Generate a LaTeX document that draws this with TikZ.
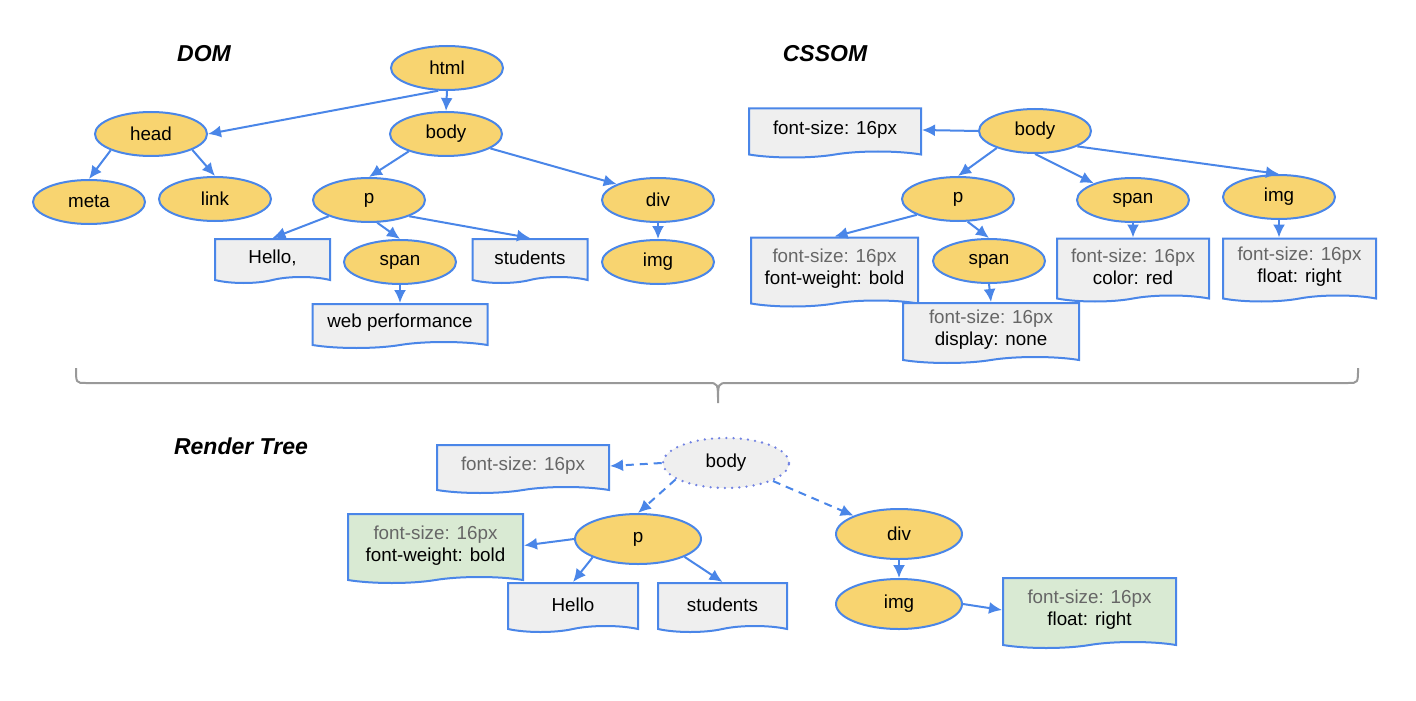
\documentclass[tikz,border=0pt]{standalone}
\usepackage{fontspec}
\setmainfont{Liberation Sans}
\usetikzlibrary{shapes.geometric,shapes.symbols,arrows.meta}
\definecolor{edgeblue}{HTML}{4A86E8}
\definecolor{nodeyellow}{HTML}{F8D470}
\definecolor{boxgray}{HTML}{EFEFEF}
\definecolor{boxgreen}{HTML}{D9EAD3}
\definecolor{txtgray}{HTML}{666666}
\definecolor{dotblue}{HTML}{7283E2}
\newcommand\fsline{\textcolor{txtgray}{font-size: 16px}}
\begin{document}
\begin{tikzpicture}[>={Latex[length=6.5pt,width=6pt]},x=.5pt,y=-.5pt,line width=1pt,
    every node/.style={font=\fontsize{9.4}{11}\selectfont},
    elem/.style={ellipse,draw=edgeblue,fill=nodeyellow,minimum width=56pt,minimum height=22pt,inner sep=0pt},
    bigelem/.style={elem,minimum width=63pt,minimum height=25pt},
    doc/.style 2 args={tape,tape bend top=none,tape bend bottom=in and out,tape bend height=3pt,yshift=1.5pt,draw=edgeblue,fill=boxgray,inner sep=0pt,align=center,minimum width=#1,minimum height=#2},
    rule/.style={edgeblue,->},
    title/.style={font=\fontsize{11.5}{13}\selectfont\bfseries\itshape}]
\useasboundingbox (0,0) rectangle (1416,700);
\node[title] at (204,54) {DOM};
\node[title] at (825,54) {CSSOM};
\node[title] at (241,446) {Render Tree};
\node[elem] (html) at (447,68) {html};
\node[elem] (head) at (151,134) {head};
\node[elem] (body) at (446,134) {body};
\node[elem] (meta) at (89,202) {meta};
\node[elem] (link) at (215,199) {link};
\node[elem] (p) at (369,200) {p};
\node[elem] (span) at (400,262) {span};
\node[elem] (div) at (658,200) {div};
\node[elem] (img) at (658,262) {img};
\node[doc={57.5pt}{22pt}] (hello) at (272.5,261) {Hello,};
\node[doc={57.5pt}{22pt}] (stud) at (530,261) {students};
\node[doc={87.5pt}{22pt}] (web) at (400,326) {web performance};
\draw[rule] (html.249) -- (head.east);
\draw[rule] (html.south) -- (body.north);
\draw[rule] (head.202) -- (meta.north);
\draw[rule] (head.339) -- (link.north);
\draw[rule] (body.205) -- (p.north);
\draw[rule] (body.342) -- (div.159);
\draw[rule] (p.202) -- (hello.north);
\draw[rule] (p.290) -- (span.north);
\draw[rule] (p.338) -- (stud.north);
\draw[rule] (span.south) -- (web.north);
\draw[rule] (div.south) -- (img.north);
\node[elem] (cbody) at (1035,131) {body};
\node[elem] (cp) at (958,199) {p};
\node[elem] (cspan) at (1133,200) {span};
\node[elem] (cimg) at (1279,197) {img};
\node[elem] (cspanb) at (989,261) {span};
\node[doc={86pt}{24.5pt}] (cfont) at (835,133) {font-size: 16px};
\node[doc={83.5pt}{34.5pt}] (cpbox) at (834.5,272) {\fsline\\font-weight: bold};
\node[doc={76pt}{31.5pt}] (ccolor) at (1133,270) {\fsline\\color: red};
\node[doc={76.5pt}{31.5pt}] (cfloat) at (1299.5,270) {\fsline\\float: right};
\node[doc={88pt}{30pt}] (cdisp) at (991,333) {\fsline\\display: none};
\draw[rule] (cbody.west) -- (cfont.east);
\draw[rule] (cbody.204) -- (cp.north);
\draw[rule] (cbody.south) -- (cspan.157);
\draw[rule] (cbody.340) -- (cimg.north);
\draw[rule] (cp.201) -- (cpbox.north);
\draw[rule] (cp.293) -- (cspanb.north);
\draw[rule] (cspanb.south) -- (cdisp.north);
\draw[rule] (cspan.south) -- (ccolor.north);
\draw[rule] (cimg.south) -- (cimg.south |- cfloat.north);
\draw[gray!80] (76,368) .. controls (76,383) .. (86,383) -- (708,383) .. controls (718,383) .. (718,403)
    .. controls (718,383) .. (728,383) -- (1348,383) .. controls (1358,383) .. (1358,368);
\node[bigelem,fill=boxgray,draw=dotblue,line width=1.3pt,line cap=round,dash pattern=on 0pt off 3.6pt] (rbody) at (726,463) {body};
\node[bigelem] (rp) at (638,539) {p};
\node[bigelem] (rdiv) at (899,534) {div};
\node[bigelem] (rimg) at (899,604) {img};
\node[doc={86pt}{24pt}] (rfont) at (523,469) {\fsline};
\node[doc={87.5pt}{34.5pt},fill=boxgreen] (rgreen) at (435.5,548.5) {\fsline\\font-weight: bold};
\node[doc={65pt}{24.5pt}] (rhello) at (573,607.5) {Hello};
\node[doc={64.5pt}{24.5pt}] (rstud) at (722.5,607.5) {students};
\node[doc={86.5pt}{35pt},fill=boxgreen] (rgreen2) at (1089.5,613) {\fsline\\float: right};
\draw[rule,dashed,dash pattern=on 4pt off 3pt] (rbody.west) -- (rfont.east);
\draw[rule,dashed,dash pattern=on 4pt off 3pt] (rbody.198) -- (rp.north);
\draw[rule,dashed,dash pattern=on 4pt off 3pt] (rbody.339) -- (rdiv.158);
\draw[rule] (rp.west) -- (rgreen.east);
\draw[rule] (rp.202) -- (rhello.north);
\draw[rule] (rp.339) -- (rstud.north);
\draw[rule] (rdiv.south) -- (rimg.north);
\draw[rule] (rimg.east) -- (rgreen2.west);
\end{tikzpicture}
\end{document}
